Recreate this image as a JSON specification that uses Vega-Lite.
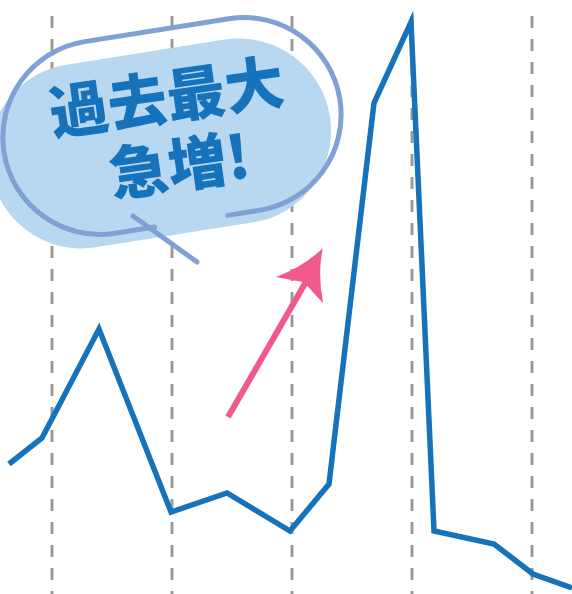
{
  "$schema": "https://vega.github.io/schema/vega-lite/v6.json",
  "width": 572,
  "height": 594,
  "padding": 0,
  "autosize": "none",
  "background": "white",
  "config": {"view": {"stroke": null}},
  "datasets": {
    "series": [
      {"t": 9, "v": 130}, {"t": 42, "v": 156}, {"t": 99, "v": 265}, {"t": 171, "v": 82},
      {"t": 227, "v": 101}, {"t": 290, "v": 63}, {"t": 329, "v": 110}, {"t": 374, "v": 491},
      {"t": 411, "v": 572}, {"t": 434, "v": 63}, {"t": 494, "v": 50}, {"t": 533, "v": 20},
      {"t": 572, "v": 6}
    ],
    "grid": [
      {"t": 52, "top": 578, "bottom": 0}, {"t": 172, "top": 578, "bottom": 0},
      {"t": 292, "top": 578, "bottom": 0}, {"t": 412, "top": 578, "bottom": 0},
      {"t": 532, "top": 578, "bottom": 0}
    ],
    "bubbleFill": [{"t": 160, "v": 451}],
    "bubbleLine": [{"t": 172, "v": 468}],
    "tail": [{"t": 133, "v": 378, "t2": 197, "v2": 332}],
    "labels": [
      {"t": 167, "v": 493, "label": "過去最大"},
      {"t": 180, "v": 425, "label": "急増!"}
    ],
    "shaft": [{"t": 228, "v": 177, "t2": 307, "v2": 314}],
    "head": [{"t": 310.7, "v": 324}]
  },
  "layer": [
    {
      "data": {"name": "grid"},
      "mark": {"type": "rule", "stroke": "#9b9b9b", "strokeWidth": 3, "strokeDash": [12, 11]},
      "encoding": {
        "x": {"field": "t", "type": "quantitative", "scale": {"domain": [0, 572]}, "axis": null},
        "y": {"field": "top", "type": "quantitative", "scale": {"domain": [0, 594]}, "axis": null},
        "y2": {"field": "bottom"}
      }
    },
    {
      "data": {"name": "bubbleFill"},
      "mark": {
        "type": "point", "filled": true, "opacity": 1, "fill": "#b8d7f0", "stroke": null,
        "size": 40000, "angle": -9,
        "shape": "M0.80,0.93 C1.308,0.93 1.72,0.508 1.72,0 C1.72,-0.508 1.308,-0.92 0.80,-0.92 L-0.80,-0.92 C-1.308,-0.92 -1.72,-0.508 -1.72,0 C-1.72,0.508 -1.308,0.93 -0.80,0.93 Z"
      },
      "encoding": {
        "x": {"field": "t", "type": "quantitative", "scale": {"domain": [0, 572]}, "axis": null},
        "y": {"field": "v", "type": "quantitative", "scale": {"domain": [0, 594]}, "axis": null}
      }
    },
    {
      "data": {"name": "bubbleLine"},
      "mark": {
        "type": "point", "filled": false, "opacity": 1, "fill": null, "stroke": "#7fa1d4",
        "strokeWidth": 5, "strokeCap": "round", "size": 40000, "angle": -9,
        "shape": "M0.41,0.97 L0.73,0.97 C1.2657,0.97 1.70,0.5357 1.70,0 C1.70,-0.5357 1.2657,-0.97 0.73,-0.97 L-0.73,-0.97 C-1.2657,-0.97 -1.70,-0.5357 -1.70,0 C-1.70,0.5357 -1.2657,0.97 -0.73,0.97 L-0.33,0.97"
      },
      "encoding": {
        "x": {"field": "t", "type": "quantitative", "scale": {"domain": [0, 572]}, "axis": null},
        "y": {"field": "v", "type": "quantitative", "scale": {"domain": [0, 594]}, "axis": null}
      }
    },
    {
      "data": {"name": "tail"},
      "mark": {"type": "rule", "stroke": "#7fa1d4", "strokeWidth": 5, "strokeCap": "round"},
      "encoding": {
        "x": {"field": "t", "type": "quantitative", "scale": {"domain": [0, 572]}, "axis": null},
        "y": {"field": "v", "type": "quantitative", "scale": {"domain": [0, 594]}, "axis": null},
        "x2": {"field": "t2"},
        "y2": {"field": "v2"}
      }
    },
    {
      "data": {"name": "labels"},
      "mark": {
        "type": "text", "font": "Noto Sans CJK JP", "fontWeight": 900, "fontSize": 59,
        "fill": "#1672ba", "align": "center", "baseline": "middle", "angle": -8
      },
      "encoding": {
        "x": {"field": "t", "type": "quantitative", "scale": {"domain": [0, 572]}, "axis": null},
        "y": {"field": "v", "type": "quantitative", "scale": {"domain": [0, 594]}, "axis": null},
        "text": {"field": "label"}
      }
    },
    {
      "data": {"name": "series"},
      "mark": {"type": "line", "stroke": "#1673bb", "strokeWidth": 5.5, "strokeJoin": "miter", "strokeMiterLimit": 10, "strokeCap": "butt"},
      "encoding": {
        "x": {"field": "t", "type": "quantitative", "scale": {"domain": [0, 572]}, "axis": null},
        "y": {"field": "v", "type": "quantitative", "scale": {"domain": [0, 594]}, "axis": null}
      }
    },
    {
      "data": {"name": "shaft"},
      "mark": {"type": "rule", "stroke": "#ef5a8b", "strokeWidth": 6},
      "encoding": {
        "x": {"field": "t", "type": "quantitative", "scale": {"domain": [0, 572]}, "axis": null},
        "y": {"field": "v", "type": "quantitative", "scale": {"domain": [0, 594]}, "axis": null},
        "x2": {"field": "t2"},
        "y2": {"field": "v2"}
      }
    },
    {
      "data": {"name": "head"},
      "mark": {
        "type": "point", "filled": true, "opacity": 1, "fill": "#ef5a8b", "stroke": null,
        "size": 2500, "angle": 29,
        "shape": "M0,-1 Q0.3,0 1.08,0.92 L0,0.56 L-1.08,0.92 Q-0.3,0 0,-1 Z"
      },
      "encoding": {
        "x": {"field": "t", "type": "quantitative", "scale": {"domain": [0, 572]}, "axis": null},
        "y": {"field": "v", "type": "quantitative", "scale": {"domain": [0, 594]}, "axis": null}
      }
    }
  ]
}
